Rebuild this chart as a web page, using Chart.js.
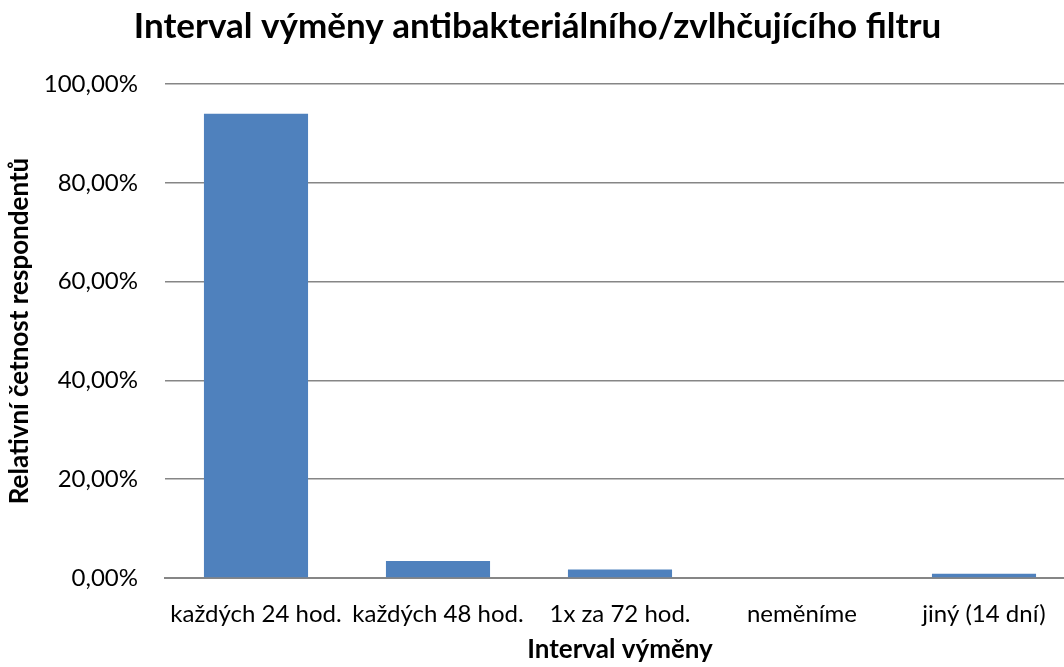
<!DOCTYPE html>
<html lang="cs">
  <head>
    <meta charset="UTF-8" />
    <script src="https://cdn.jsdelivr.net/npm/chart.js"></script>
    <title>Interval výměny</title>
    <style>
      html, body { margin: 0; padding: 0; background: #fff; overflow: hidden; }
      .wrap { width: 1064px; height: 667px; overflow: hidden; }
    </style>
  </head>
  <body>
    <div class="wrap">
      <canvas id="graf" width="1075" height="667" style="width: 1075px; height: 667px"></canvas>
    </div>
<script>
  const kategorie = ["každých 24 hod.", "každých 48 hod.", "1x za 72 hod.", "neměníme", "jiný (14 dní)"];
  const cetnost = [0.9397, 0.0345, 0.0172, 0, 0.0086]; // 109, 4, 2, 0, 1 ze 116
  const ytick = [0, 0.2, 0.4, 0.6, 0.8, 1.0];

  const pismo = "Lato, 'Open Sans', 'Noto Sans', sans-serif";

  const ctx = document.getElementById("graf").getContext("2d");
  new Chart(ctx, {
    type: "bar",
    data: {
      labels: kategorie,
      datasets: [
        {
          label: "Relativní četnost",
          data: cetnost,
          backgroundColor: "#4f81bd",
          borderWidth: 0,
          categoryPercentage: 1,
          barPercentage: 0.572,
        },
      ],
    },
    options: {
      responsive: false,
      animation: false,
      layout: { padding: 0 },
      plugins: {
        legend: { display: false },
        tooltip: { enabled: false },
        title: {
          display: true,
          text: "Interval výměny antibakteriálního/zvlhčujícího filtru",
          color: "#000",
          font: { family: pismo, size: 35, weight: "bold" },
          padding: { top: 6, bottom: 36 },
        },
      },
      scales: {
        x: {
          grid: { display: false, drawTicks: false },
          border: { display: true, color: "#868686", width: 2 },
          ticks: { color: "#000", font: { family: pismo, size: 24 }, padding: 22, maxRotation: 0, autoSkip: false },
          title: {
            display: true,
            text: "Interval výměny",
            color: "#000",
            font: { family: pismo, size: 26, weight: "bold" },
            padding: { top: 0, bottom: 2 },
          },
          afterFit: (s) => { s.height = 89; },
        },
        y: {
          min: 0,
          max: 1,
          afterBuildTicks: (s) => { s.ticks = ytick.map((v) => ({ value: v })); },
          grid: { color: "#868686", lineWidth: 1.5, drawTicks: false },
          border: { display: false },
          ticks: {
            color: "#000",
            font: { family: pismo, size: 24 },
            padding: 27,
            callback: (v) => (v * 100).toFixed(2).replace(".", ",") + "%",
          },
          title: {
            display: true,
            text: "Relativní četnost respondentů",
            color: "#000",
            font: { family: pismo, size: 26, weight: "bold" },
            padding: { top: 4, bottom: 0 },
          },
          afterFit: (s) => { s.width = 165; },
        },
      },
    },
  });
</script>
  </body>
</html>
